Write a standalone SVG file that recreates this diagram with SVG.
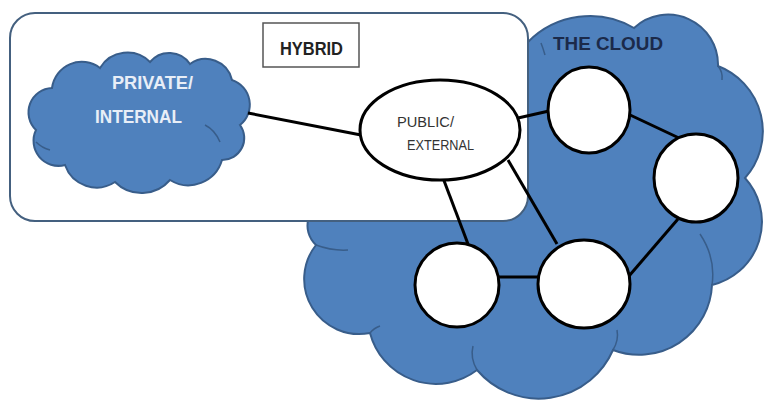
<svg xmlns="http://www.w3.org/2000/svg" width="764" height="403" viewBox="0 0 764 403">
  <style>
    .cloud { fill: #4f81bd; stroke: #385d8a; stroke-width: 2; }
    .inner { fill: none; stroke: #385d8a; stroke-width: 1.5; }
    .node { fill: #ffffff; stroke: #000000; stroke-width: 3; }
    .edge { stroke: #000000; stroke-width: 3; fill: none; }
    .lbl { font-family: "Liberation Sans", Arial, sans-serif; font-weight: bold; }
  </style>

  <!-- large public cloud -->
  <g id="the-cloud">
    <path class="cloud" d="M528 42
      A87 87 0 0 1 634 28
      A50 50 0 0 1 718 66
      A70 70 0 0 1 745 178
      A65 65 0 0 1 712 285
      A73 73 0 0 1 613 350
      A81 81 0 0 1 477 370
      A68 68 0 0 1 370 333
      A55 55 0 0 1 316 245
      A26 26 0 0 1 330 200
      L515 60 Z"/>
    <path class="inner" d="M316 245 Q332 251 348 250"/>
    <path class="inner" d="M370 333 Q374 328 380 326"/>
    <path class="inner" d="M477 370 Q470 358 473 346"/>
    <path class="inner" d="M613 350 Q619 340 617 330"/>
    <path class="inner" d="M712 285 Q716 258 700 234"/>
    <path class="inner" d="M718 66 Q723 72 722 80"/>
    <path class="inner" d="M541 43 Q543 48 545 55"/>
  </g>

  <!-- hybrid boundary -->
  <g id="hybrid">
    <rect x="10" y="13" width="518" height="208" rx="25" ry="25" fill="#ffffff" stroke="#44607f" stroke-width="2"/>
    <rect x="263" y="23" width="96" height="44" fill="#ffffff" stroke="#555555" stroke-width="1.5"/>
    <text class="lbl" x="280" y="55" font-size="18" fill="#222222" textLength="63" lengthAdjust="spacingAndGlyphs">HYBRID</text>
  </g>

  <!-- private cloud -->
  <g id="private-cloud">
    <path class="cloud" d="M36 130
      A24.4 24.4 0 0 1 52 88
      A30 30 0 0 1 100 68
      A32 32 0 0 1 150 62
      A25 25 0 0 1 190 64
      A27 27 0 0 1 232 80
      A26 26 0 0 1 240 125
      A22 22 0 0 1 222 160
      A35 35 0 0 1 170 180
      A37.5 37.5 0 0 1 115 182
      A33.5 33.5 0 0 1 65 165
      A25 25 0 0 1 36 130 Z"/>
    <path class="inner" d="M205 125 Q215 130 220 142"/>
    <path class="inner" d="M50 150 Q42 148 36 142"/>
    <text class="lbl" x="112" y="89" font-size="19" fill="#e8eef7" textLength="81" lengthAdjust="spacingAndGlyphs">PRIVATE/</text>
    <text class="lbl" x="95" y="123" font-size="19" fill="#e8eef7" textLength="87" lengthAdjust="spacingAndGlyphs">INTERNAL</text>
  </g>

  <text class="lbl" x="553" y="50" font-size="19" fill="#1b2a4a" textLength="110" lengthAdjust="spacingAndGlyphs">THE CLOUD</text>

  <!-- connectors -->
  <g id="connectors">
    <line class="edge" x1="248" y1="113" x2="361" y2="135"/>
    <line class="edge" x1="518" y1="118" x2="549" y2="111"/>
    <line class="edge" x1="628" y1="114" x2="679" y2="138"/>
    <line class="edge" x1="443" y1="178" x2="468" y2="244"/>
    <line class="edge" x1="508" y1="160" x2="557" y2="244"/>
    <line class="edge" x1="498" y1="277" x2="540" y2="277"/>
    <line class="edge" x1="629" y1="276" x2="678" y2="219"/>
  </g>

  <g id="public-external">
    <ellipse class="node" cx="440" cy="130" rx="80" ry="50"/>
    <text x="397" y="127" font-family="'Liberation Sans', Arial, sans-serif" font-size="15" fill="#333333" textLength="57" lengthAdjust="spacingAndGlyphs">PUBLIC/</text>
    <text x="407" y="150" font-family="'Liberation Sans', Arial, sans-serif" font-size="15" fill="#333333" textLength="67" lengthAdjust="spacingAndGlyphs">EXTERNAL</text>
  </g>

  <g id="node-a"><ellipse class="node" cx="589" cy="110" rx="41" ry="43"/></g>
  <g id="node-b"><ellipse class="node" cx="696" cy="178" rx="42" ry="44"/></g>
  <g id="node-c"><ellipse class="node" cx="457" cy="285" rx="42" ry="42"/></g>
  <g id="node-d"><ellipse class="node" cx="584" cy="284" rx="46" ry="44"/></g>
</svg>
